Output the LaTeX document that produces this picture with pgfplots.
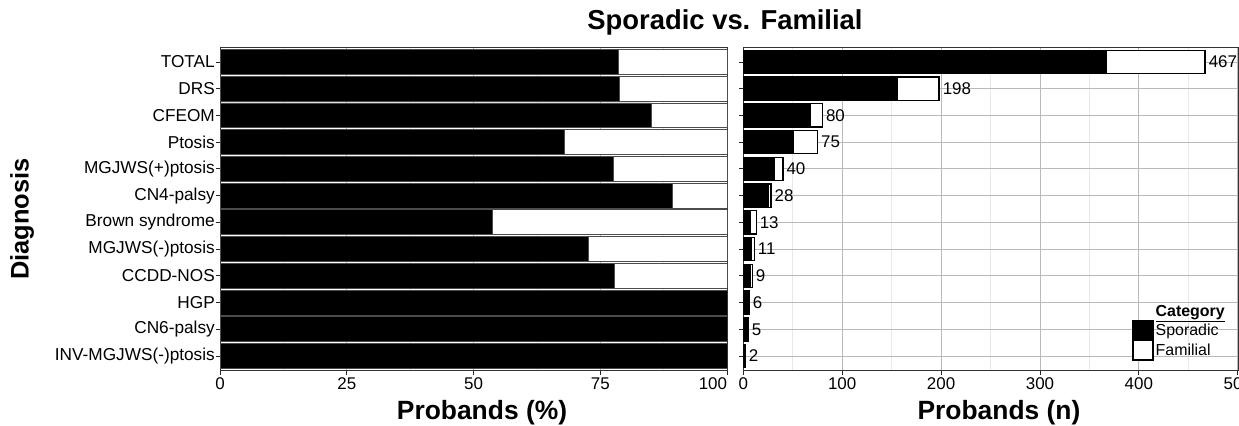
\documentclass[border=0pt]{standalone}
\usepackage{fontspec}
\setmainfont{Liberation Sans}
\usepackage{pgfplots}
\usepackage{pgfplotstable}
\pgfplotsset{compat=1.18}

\pgfplotstableread{
pos spor fam tot psp pfa
11 367 100 467 78.6 21.4
10 156 42 198 78.8 21.2
9 68 12 80 85.0 15.0
8 51 24 75 68.0 32.0
7 31 9 40 77.5 22.5
6 25 3 28 89.3 10.7
5 7 6 13 53.8 46.2
4 8 3 11 72.7 27.3
3 7 2 9 77.8 22.2
2 6 0 6 100 0
1 5 0 5 100 0
0 2 0 2 100 0
}\datatab

\newcommand{\xtickfont}{\fontsize{17}{20}\selectfont}
\newcommand{\ytickfont}{\fontsize{17.3}{20}\selectfont}

\pgfplotsset{
  common/.style={
    scale only axis,
    anchor=south west,
    height=323.5bp,
    ymin=-0.55, ymax=11.55,
    ytick={0,...,11},
    xtick pos=bottom,
    ytick pos=left,
    tick align=outside,
    major tick length=4bp,
    minor tick length=0bp,
    tick style={gray!30!black, line width=0.8bp},
    axis line style={gray!40!black, line width=0.9bp},
    xticklabel style={font=\xtickfont, inner sep=1bp, yshift=-2bp},
    yticklabel style={font=\ytickfont, inner sep=1bp},
    /pgf/number format/assume math mode=true,
    axis on top=false,
  }
}

\begin{document}
\begin{tikzpicture}[x=1bp,y=1bp]
\useasboundingbox (0,0) rectangle (1239,425);

% Left panel: percentages
\begin{axis}[common,
  at={(220bp,54.3bp)},
  width=507bp,
  xbar stacked,
  xmin=0, xmax=100,
  xtick={0,25,50,75,100},
  xticklabels={0,25,50,75,\makebox[0pt][r]{100}},
  minor xtick={12.5,37.5,62.5,87.5},
  xmajorgrids, xminorgrids,
  major grid style={gray!55, line width=0.8bp},
  minor grid style={gray!20, line width=0.6bp},
  yticklabels={INV-MGJWS(-)ptosis,CN6-palsy,HGP,CCDD-NOS,MGJWS(-)ptosis,Brown syndrome,CN4-palsy,MGJWS(+)ptosis,Ptosis,CFEOM,DRS,TOTAL},
  bar width=0.93,
]
\addplot[fill=black, draw=gray!60!black, line width=0.8bp] table[x=psp, y=pos] {\datatab};
\addplot[fill=white, draw=gray!60!black, line width=0.8bp] table[x=pfa, y=pos] {\datatab};
\end{axis}

% Right panel: counts
\begin{axis}[common,
  at={(743.3bp,54.3bp)},
  width=495.4bp,
  xbar, bar shift=0pt,
  xmin=0, xmax=501,
  xtick={0,100,200,300,400,500},
  minor xtick={50,150,250,350,450},
  xmajorgrids, xminorgrids, ymajorgrids,
  major grid style={gray!55, line width=0.8bp},
  minor grid style={gray!18, line width=0.6bp},
  yticklabels={},
  bar width=0.87,
  legend style={at={(0.785,0.209)}, anchor=north west, draw=none, fill=none,
    font=\fontsize{16}{17}\selectfont, inner sep=0pt, row sep=0pt,
    cells={anchor=west}},
  legend image code/.code={\draw[#1] (0bp,-9.5bp) rectangle (20bp,9.5bp);},
]
\addplot[fill=white, draw=black, line width=1.3bp, forget plot,
  point meta=x,
  nodes near coords={\pgfmathprintnumber[precision=0]{\pgfplotspointmeta}},
  nodes near coords style={font=\xtickfont, anchor=west, inner sep=1bp, xshift=2bp, text=black},
] table[x=tot, y=pos] {\datatab};
\addplot[fill=black, draw=black, line width=1.3bp, forget plot] table[x=spor, y=pos] {\datatab};
\addlegendimage{empty legend}
\addlegendentry{\textbf{\underline{Category}}}
\addlegendimage{fill=black, draw=black, line width=1.3bp}
\addlegendentry{Sporadic}
\addlegendimage{fill=white, draw=black, line width=1.3bp}
\addlegendentry{Familial}
\end{axis}

\node[anchor=base, font=\fontsize{27.5}{32}\selectfont\bfseries] at (725,395) {Sporadic vs. Familial};
\node[anchor=base, font=\fontsize{26.5}{30}\selectfont\bfseries] at (482,6) {Probands (\%)};
\node[anchor=base, font=\fontsize{26.5}{30}\selectfont\bfseries] at (999,6) {Probands (n)};
\node[rotate=90, font=\fontsize{25.5}{30}\selectfont\bfseries] at (22,206) {Diagnosis};
\end{tikzpicture}
\end{document}
